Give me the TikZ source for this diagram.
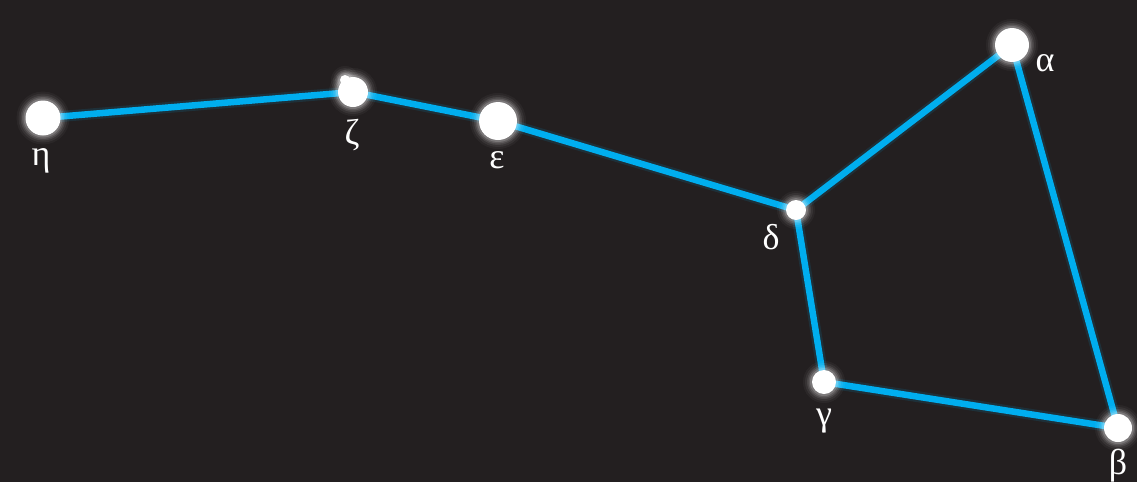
\documentclass[tikz,border=0pt]{standalone}
\usepackage{fontspec}
\setmainfont{Liberation Serif}
\definecolor{bg}{HTML}{231F20}
\definecolor{lineblue}{HTML}{00AEEF}
\tikzset{
  starlbl/.style={text=white, font=\fontsize{36}{40}\selectfont, inner sep=0pt},
  conn/.style={draw=lineblue, line width=6.5pt, line cap=round, line join=round},
  connglow/.style={draw=lineblue, line width=11pt, opacity=0.12, line cap=round, line join=round},
}
\newcommand{\mystar}[4]{% name, x, y, radius
  \foreach \k/\o in {9/0.04,7/0.06,5/0.09,3.5/0.12,2/0.18}{
    \fill[white, opacity=\o] (#2,#3) circle ({#4+\k});
  }
  \node[circle, fill=white, minimum size={2*#4}, inner sep=0pt] (#1) at (#2,#3) {};
}
\begin{document}
\begin{tikzpicture}[x=1pt, y=-1pt]
\fill[bg] (0,0) rectangle (1137,482);
\useasboundingbox (0,0) rectangle (1137,482);
% star coordinates
\coordinate (ceta) at (43,118);
\coordinate (czeta) at (353,92);
\coordinate (ceps) at (498,121);
\coordinate (cdel) at (796,210);
\coordinate (calp) at (1012,45);
\coordinate (cgam) at (824,382);
\coordinate (cbet) at (1118,428);
% connectors
\draw[connglow] (ceta) -- (czeta) -- (ceps) -- (cdel) -- (calp) -- (cbet) -- (cgam) -- (cdel);
\draw[conn] (ceta) -- (czeta) -- (ceps) -- (cdel) -- (calp) -- (cbet) -- (cgam) -- (cdel);
% stars
\mystar{eta}{43}{118}{17.5}
\mystar{alcor}{345}{80}{5}
\mystar{zeta}{353}{92}{15}
\mystar{eps}{498}{121}{19}
\mystar{del}{796}{210}{10}
\mystar{alp}{1012}{45}{17}
\mystar{gam}{824}{382}{12}
\mystar{bet}{1118}{428}{14}
% labels
\node[starlbl] (leta) at (41,161) {η};
\node[starlbl] (lzeta) at (352,135) {ζ};
\node[starlbl] (leps) at (497,160) {ε};
\node[starlbl] (ldel) at (771,237) {δ};
\node[starlbl] (lalp) at (1045,63) {α};
\node[starlbl] (lgam) at (824,421) {γ};
\node[starlbl] (lbet) at (1118,466) {β};
\end{tikzpicture}
\end{document}
